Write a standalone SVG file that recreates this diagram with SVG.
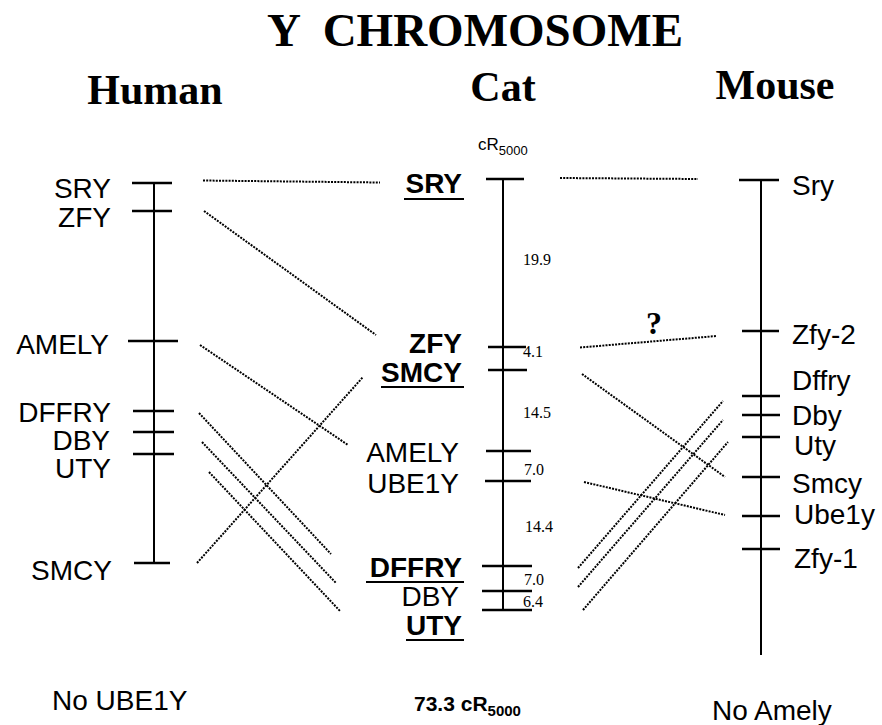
<svg xmlns="http://www.w3.org/2000/svg" width="882" height="725" viewBox="0 0 882 725">
<style>
.t{font-family:"Liberation Serif","Times New Roman",serif;font-weight:bold;fill:#000}
.l{font-family:"Liberation Sans",Arial,sans-serif;font-size:28px;fill:#000}
.b{font-weight:bold}
.n{font-family:"Liberation Serif","Times New Roman",serif;font-size:16px;fill:#000}
.chr{stroke:#000;stroke-width:2;fill:none}
.tk{stroke:#000;stroke-width:2.5;fill:none}
.ul{stroke:#000;stroke-width:2;fill:none}
.dot{stroke:#000;stroke-width:2;stroke-dasharray:2 1.2;fill:none}
</style>
<rect width="882" height="725" fill="#fff"/>
<text class="t" x="475" y="46" font-size="47" text-anchor="middle" xml:space="preserve">Y  CHROMOSOME</text>
<text class="t" x="155" y="104" font-size="42" text-anchor="middle">Human</text>
<text class="t" x="503" y="101" font-size="42" text-anchor="middle">Cat</text>
<text class="t" x="775" y="99" font-size="42" text-anchor="middle">Mouse</text>

<g id="human">
<line class="chr" x1="154" y1="183" x2="154" y2="563"/>
<g id="h-sry"><line class="tk" x1="132" y1="183" x2="172" y2="183"/><text class="l" x="111" y="198" text-anchor="end">SRY</text></g>
<g id="h-zfy"><line class="tk" x1="132" y1="211" x2="172" y2="211"/><text class="l" x="111" y="227" text-anchor="end">ZFY</text></g>
<g id="h-amely"><line class="tk" x1="128" y1="341" x2="178" y2="341"/><text class="l" x="109" y="354" text-anchor="end">AMELY</text></g>
<g id="h-dffry"><line class="tk" x1="133" y1="411" x2="174" y2="411"/><text class="l" x="111" y="422" text-anchor="end">DFFRY</text></g>
<g id="h-dby"><line class="tk" x1="133" y1="432" x2="174" y2="432"/><text class="l" x="110" y="450" text-anchor="end">DBY</text></g>
<g id="h-uty"><line class="tk" x1="133" y1="454" x2="174" y2="454"/><text class="l" x="111" y="478" text-anchor="end">UTY</text></g>
<g id="h-smcy"><line class="tk" x1="134" y1="563" x2="170" y2="563"/><text class="l" x="112" y="580" text-anchor="end">SMCY</text></g>
<text class="l" x="52" y="710">No UBE1Y</text>
</g>

<g id="cat">
<text x="478" y="150" font-family="Liberation Sans,Arial,sans-serif" font-size="17">cR<tspan font-size="13" dy="5">5000</tspan></text>
<line class="chr" x1="503" y1="179" x2="503" y2="611"/>
<g id="c-sry"><line class="tk" x1="486" y1="179" x2="524" y2="179"/><text class="l b" x="462" y="193" text-anchor="end">SRY</text><line class="ul" x1="404" y1="199" x2="464" y2="199"/></g>
<g id="c-zfy"><line class="tk" x1="488" y1="347" x2="526" y2="347"/><text class="l b" x="462" y="353" text-anchor="end">ZFY</text></g>
<g id="c-smcy"><line class="tk" x1="488" y1="370" x2="527" y2="370"/><text class="l b" x="462" y="382" text-anchor="end">SMCY</text><line class="ul" x1="381" y1="387" x2="464" y2="387"/></g>
<g id="c-amely"><line class="tk" x1="486" y1="451" x2="531" y2="451"/><text class="l" x="459" y="462" text-anchor="end">AMELY</text></g>
<g id="c-ube1y"><line class="tk" x1="485" y1="481" x2="531" y2="481"/><text class="l" x="459" y="493" text-anchor="end">UBE1Y</text></g>
<g id="c-dffry"><line class="tk" x1="482" y1="566" x2="532" y2="566"/><text class="l b" x="462" y="577" text-anchor="end">DFFRY</text><line class="ul" x1="366" y1="582" x2="464" y2="582"/></g>
<g id="c-dby"><line class="tk" x1="482" y1="591" x2="532" y2="591"/><text class="l" x="459" y="606" text-anchor="end">DBY</text></g>
<g id="c-uty"><line class="tk" x1="482" y1="610" x2="532" y2="610"/><text class="l b" x="462" y="635" text-anchor="end">UTY</text><line class="ul" x1="406" y1="640" x2="464" y2="640"/></g>
<text class="n" x="523" y="265">19.9</text>
<text class="n" x="523" y="357">4.1</text>
<text class="n" x="523" y="418">14.5</text>
<text class="n" x="524" y="475">7.0</text>
<text class="n" x="525" y="532">14.4</text>
<text class="n" x="524" y="585">7.0</text>
<text class="n" x="523" y="607">6.4</text>
<text x="414" y="711" font-family="Liberation Sans,Arial,sans-serif" font-weight="bold" font-size="21">73.3 cR<tspan font-size="15" dy="5">5000</tspan></text>
</g>

<g id="mouse">
<line class="chr" x1="761" y1="180" x2="761" y2="655"/>
<g id="m-sry"><line class="tk" x1="739" y1="180" x2="779" y2="180"/><text class="l" x="792" y="195">Sry</text></g>
<g id="m-zfy2"><line class="tk" x1="742" y1="331" x2="779" y2="331"/><text class="l" x="792" y="344">Zfy-2</text></g>
<g id="m-dffry"><line class="tk" x1="742" y1="396" x2="780" y2="396"/><text class="l" x="792" y="390">Dffry</text></g>
<g id="m-dby"><line class="tk" x1="742" y1="415" x2="780" y2="415"/><text class="l" x="792" y="425">Dby</text></g>
<g id="m-uty"><line class="tk" x1="742" y1="437" x2="780" y2="437"/><text class="l" x="794" y="455">Uty</text></g>
<g id="m-smcy"><line class="tk" x1="742" y1="477" x2="780" y2="477"/><text class="l" x="792" y="493">Smcy</text></g>
<g id="m-ube1y"><line class="tk" x1="742" y1="516" x2="780" y2="516"/><text class="l" x="794" y="524">Ube1y</text></g>
<g id="m-zfy1"><line class="tk" x1="742" y1="549" x2="780" y2="549"/><text class="l" x="794" y="568">Zfy-1</text></g>
<text class="l" x="712" y="720">No Amely</text>
</g>

<g id="connectors">
<line class="dot" x1="203" y1="180.5" x2="380" y2="182.5"/>
<line class="dot" x1="204" y1="211" x2="376" y2="335"/>
<line class="dot" x1="200" y1="345" x2="348" y2="445"/>
<line class="dot" x1="197" y1="563" x2="363" y2="377"/>
<line class="dot" x1="199" y1="413" x2="331" y2="554"/>
<line class="dot" x1="202" y1="442" x2="336" y2="583"/>
<line class="dot" x1="209" y1="472" x2="340" y2="611"/>
<line class="dot" x1="560" y1="178" x2="698" y2="179"/>
<line class="dot" x1="580" y1="347.5" x2="717" y2="336"/>
<line class="dot" x1="582" y1="374" x2="725" y2="477"/>
<line class="dot" x1="584" y1="482" x2="725" y2="515"/>
<line class="dot" x1="578" y1="568" x2="723" y2="401"/>
<line class="dot" x1="578" y1="587" x2="723" y2="420"/>
<line class="dot" x1="583" y1="610" x2="728" y2="442"/>
<text class="t" x="654" y="334" font-size="32" text-anchor="middle">?</text>
</g>
</svg>
